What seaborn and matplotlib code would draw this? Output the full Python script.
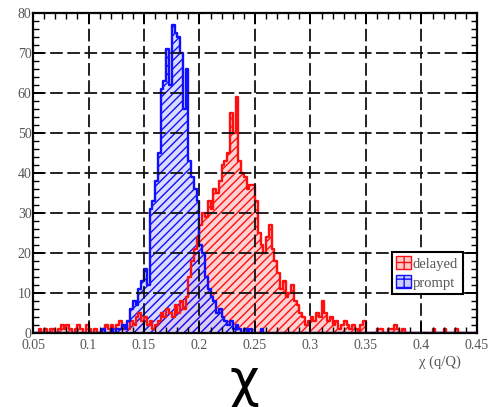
import numpy as np
import pandas as pd
import matplotlib
matplotlib.use("Agg")
import matplotlib.pyplot as plt
from matplotlib.patches import Patch
import seaborn as sns

# ---- data (bin width 0.0025) ----
bin_width = 0.0025
delayed_start = 0.05
delayed_counts = [
    0, 0, 1, 0, 1, 0, 1, 1, 0, 1, 2, 1, 2, 1, 0, 1, 2, 1, 0, 2,   # 0.050-0.0975
    1, 0, 1, 0, 0, 1, 2, 1, 2, 1, 2, 3, 1, 2, 1, 3, 2, 4, 5, 3,   # 0.100-0.1475
    4, 2, 3, 1, 2, 3, 5, 4, 6, 5, 4, 7, 5, 8, 6, 9, 14, 18, 21, 24,  # 0.150-0.1975
    27, 30, 29, 33, 31, 36, 35, 38, 42, 43, 45, 55, 50, 59, 43, 40, 39, 36, 37, 37,  # 0.200-0.2475
    33, 25, 22, 20, 24, 27, 21, 18, 15, 11, 13, 9, 10, 12, 8, 7, 5, 4, 2, 3,  # 0.250-0.2975
    4, 3, 5, 4, 8, 5, 3, 4, 2, 3, 1, 2, 3, 2, 1, 2, 1, 0, 2, 3,   # 0.300-0.3475
    0, 0, 0, 0, 1, 1, 0, 0, 1, 1, 2, 1, 0, 1, 0, 0, 0, 0, 0, 0,   # 0.350-0.3975
    0, 0, 0, 0, 1, 0, 0, 0, 1, 0, 0, 0, 1, 0, 0, 0, 0, 0, 0, 0,   # 0.400-0.4475
]
prompt_start = 0.10
prompt_counts = [
    0, 0, 0, 0, 0, 1, 0, 0, 1, 0, 1, 1, 2, 1, 3, 6, 8, 7, 11, 13,   # 0.100-0.1475
    16, 12, 31, 33, 38, 45, 61, 63, 71, 62, 77, 75, 74, 70, 56, 66, 43, 39, 36, 33,  # 0.150-0.1975
    22, 20, 14, 11, 9, 8, 5, 6, 4, 3, 2, 3, 1, 2, 1, 0, 1, 0, 1, 0,   # 0.200-0.2475
    0, 0, 1, 0, 0,   # 0.250-0.260
]
series_names = ["delayed", "prompt"]
x_ticks = [0.05, 0.1, 0.15, 0.2, 0.25, 0.3, 0.35, 0.4, 0.45]
y_ticks = [0, 10, 20, 30, 40, 50, 60, 70, 80]


def frame(start, counts):
    c = start + bin_width * (np.arange(len(counts)) + 0.5)
    return pd.DataFrame({"x": c, "w": np.asarray(counts, dtype=float)})


edges = list(np.round(np.arange(0.05, 0.45 + bin_width / 2, bin_width), 6))

sns.set_theme(style="white")
plt.rcParams["font.family"] = ["Liberation Serif", "DejaVu Serif"]
plt.rcParams["hatch.linewidth"] = 1.0

fig = plt.figure(figsize=(4.88, 4.07), dpi=100)
ax = fig.add_axes([33 / 488, 1 - 333 / 407, 444 / 488, 320 / 407])

red = "#ff1010"
blue = "#1010ff"
series = [(delayed_start, delayed_counts, red, (1.0, 0.80, 0.80, 0.9)),
          (prompt_start, prompt_counts, blue, (0.80, 0.80, 1.0, 0.7))]

# hatched fills
for start, counts, ec, fc in series:
    sns.histplot(data=frame(start, counts), x="x", weights="w", bins=edges,
                 element="step", fill=True, color=ec, ax=ax)
    coll = ax.collections[-1]
    coll.set_facecolor(fc)
    coll.set_edgecolor(ec)
    coll.set_hatch("////")
    coll.set_linewidth(0)

# step outlines on top of both fills
for start, counts, ec, fc in series:
    sns.histplot(data=frame(start, counts), x="x", weights="w", bins=edges,
                 element="step", fill=False, color=ec, linewidth=1.7, ax=ax)

ax.set_xlim(0.05, 0.45)
ax.set_ylim(0, 80)
ax.set_xticks(x_ticks)
ax.set_xticklabels([f"{t:g}" for t in x_ticks])
ax.set_yticks(y_ticks)
ax.set_xticks(np.arange(0.05, 0.4501, 0.01), minor=True)
ax.set_yticks(np.arange(0, 80.1, 2), minor=True)
ax.set_ylabel("")
ax.set_xlabel("")

ax.grid(True, which="major", color="#111111", linestyle=(0, (7, 2.5)), linewidth=1.3)
ax.set_axisbelow(False)
for s in ax.spines.values():
    s.set_visible(True)
    s.set_color("black")
    s.set_linewidth(1.6)

ax.tick_params(which="both", direction="in", top=True, right=True,
               bottom=True, left=True, colors="black", labelcolor="#555555",
               labelsize=10, pad=4)
ax.tick_params(axis="y", pad=1)
ax.tick_params(which="major", length=8, width=1.4)
ax.tick_params(which="minor", length=4, width=1.0)

handles = [Patch(facecolor=(1.0, 0.80, 0.80), edgecolor=red, hatch="++", label=series_names[0]),
           Patch(facecolor=(0.80, 0.80, 1.0), edgecolor=blue, hatch="++", label=series_names[1])]
leg = ax.legend(handles=handles, loc="lower left", bbox_to_anchor=(0.808, 0.122),
                frameon=True, fancybox=False, framealpha=1, edgecolor="black",
                fontsize=10.5, handlelength=1.0, handleheight=1.0, handletextpad=0.15,
                borderpad=0.3, labelspacing=0.3, borderaxespad=0)
leg.get_frame().set_linewidth(1.5)
for t in leg.get_texts():
    t.set_color("#555555")

fig.text(440 / 488, 1 - 362 / 407, "χ (q/Q)", ha="center", va="center",
         fontsize=10.5, color="#555555")
fig.text(244 / 488, 1 - 382 / 407, "χ", ha="center", va="center",
         fontsize=37, color="black", family=["DejaVu Sans"])

fig.savefig("out.png", dpi=100)
